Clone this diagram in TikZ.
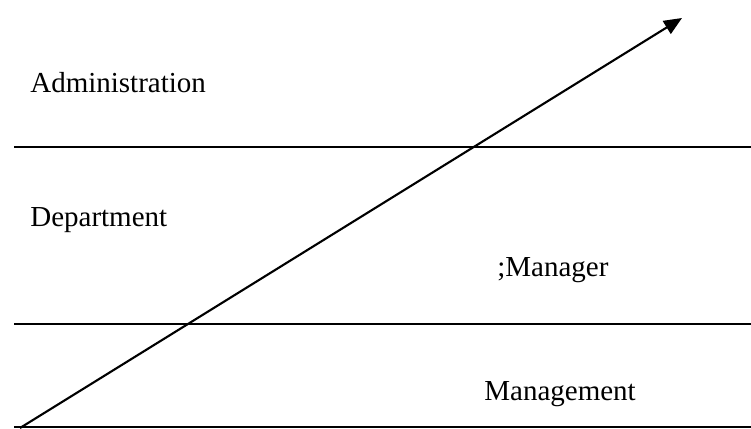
\documentclass[tikz,border=0pt]{standalone}
\usepackage{fontspec}
\setmainfont{Liberation Serif}
\usepackage{tikz}
\usetikzlibrary{arrows.meta}

\begin{document}
\begin{tikzpicture}[
    lvl/.style={anchor=base west,inner sep=0pt,font=\fontsize{16.5}{20}\selectfont}]
        \useasboundingbox (0,0) rectangle (15.02,8.56);
        % level separators
        \draw[line width=1.1pt] (0.28,5.62) -- (15.02,5.62);
        \draw[line width=0.6pt] (0.28,2.08) -- (15.02,2.08);
        \draw[line width=0.6pt] (0.28,0.02) -- (15.02,0.02);
        % level labels
        \node[lvl] (admin) at (0.6,6.72) {Administration};
        \node[lvl] (dept) at (0.6,4.04) {Department};
        \node[lvl] (mgr) at (9.94,3.04) {;Manager};
        \node[lvl] (mgmt) at (9.68,0.56) {Management};
        % rising arrow
        \coordinate (low) at (0.4,0);
        \coordinate (high) at (13.64,8.2);
        \draw[line width=1.2pt,-{Triangle[length=0.36cm,width=0.3cm]}] (low)--(high);
      \end{tikzpicture}
\end{document}
